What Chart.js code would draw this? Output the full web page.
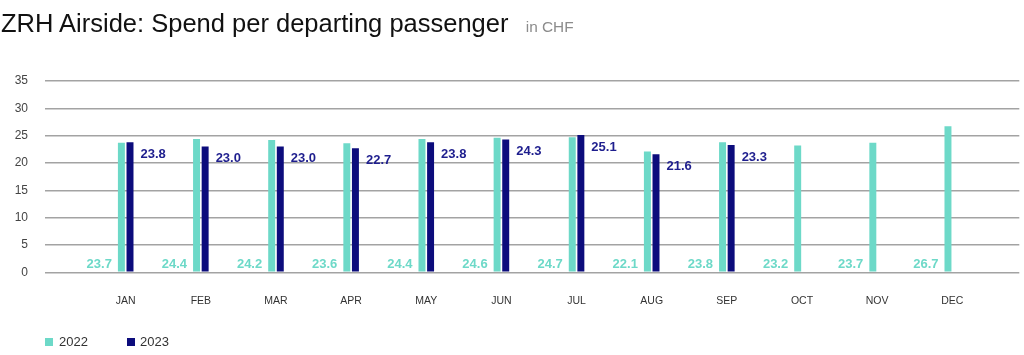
<!DOCTYPE html>
<html>
<head>
<meta charset="utf-8">
<script src="https://cdn.jsdelivr.net/npm/chart.js@4"></script>
<style>
html,body{margin:0;padding:0;background:#fff;}
#wrap{position:relative;width:1024px;height:355px;overflow:hidden;font-family:"Liberation Sans",Arial,sans-serif;}
#chart{position:absolute;left:0;top:0;}
#title{position:absolute;left:1px;top:10.7px;font-size:25.5px;line-height:1;color:#111;white-space:nowrap;}
#title .sub{font-size:15.4px;color:#8c8c8c;margin-left:13px;}
.sw{position:absolute;width:8px;height:8px;top:337.5px;}
.lt{position:absolute;top:334.5px;font-size:13px;line-height:13px;color:#333;white-space:nowrap;}
</style>
</head>
<body>
<div id="wrap">
  <canvas id="chart" width="1024" height="355"></canvas>
  <div id="title">ZRH Airside: Spend per departing passenger<span class="sub"> in CHF</span></div>
  <div class="sw" id="sw0" style="left:45px;"></div><div class="lt" id="lt0" style="left:59px;"></div>
  <div class="sw" id="sw1" style="left:127px;"></div><div class="lt" id="lt1" style="left:140px;"></div>
</div>
<script>
const months = ['JAN','FEB','MAR','APR','MAY','JUN','JUL','AUG','SEP','OCT','NOV','DEC'];
const seriesNames = ['2022','2023'];
const values2022 = [23.7,24.4,24.2,23.6,24.4,24.6,24.7,22.1,23.8,23.2,23.7,26.7];
const values2023 = [23.8,23.0,23.0,22.7,23.8,24.3,25.1,21.6,23.3];
const yTicks = [0,5,10,15,20,25,30,35];

const color2022 = '#6dd9c8';
const color2023 = '#0c0c7c';
const label2023 = '#1e1e8e';

document.getElementById('sw0').style.background = color2022;
document.getElementById('sw1').style.background = color2023;
document.getElementById('lt0').textContent = seriesNames[0];
document.getElementById('lt1').textContent = seriesNames[1];

const barLabels = {
  id: 'barLabels',
  afterDatasetsDraw(chart) {
    const ctx = chart.ctx;
    const yb = chart.scales.y.getPixelForValue(0);
    ctx.save();
    ctx.font = 'bold 13px "Liberation Sans", Arial, sans-serif';
    ctx.textBaseline = 'middle';
    chart.getDatasetMeta(0).data.forEach((bar, i) => {
      ctx.fillStyle = color2022;
      ctx.textAlign = 'right';
      ctx.fillText(values2022[i].toFixed(1), bar.x - bar.width / 2 - 6, yb - 8.3);
    });
    chart.getDatasetMeta(1).data.forEach((bar, i) => {
      ctx.fillStyle = label2023;
      ctx.textAlign = 'left';
      ctx.fillText(values2023[i].toFixed(1), bar.x + bar.width / 2 + 7, bar.y + 12);
    });
    ctx.restore();
  }
};

new Chart(document.getElementById('chart'), {
  type: 'bar',
  data: {
    datasets: [
      { label: seriesNames[0], data: values2022.map((v, i) => ({ x: i + 1, y: v })), backgroundColor: color2022 },
      { label: seriesNames[1], data: values2023.map((v, i) => ({ x: i + 1, y: v })), backgroundColor: color2023 }
    ]
  },
  options: {
    responsive: false,
    animation: false,
    categoryPercentage: 0.229,
    barPercentage: 0.81,
    layout: { padding: { top: 81, right: 4.7, left: 0, bottom: 0 } },
    plugins: { legend: { display: false }, tooltip: { enabled: false }, title: { display: false } },
    scales: {
      x: {
        type: 'linear',
        offset: false,
        min: -0.074,
        max: 12.892,
        afterBuildTicks: (s) => { s.ticks = months.map((m, i) => ({ value: i + 1 })); },
        afterFit: (s) => { s.height = 82.7; },
        grid: { display: false, drawTicks: false, offset: false },
        border: { display: false },
        ticks: {
          autoSkip: false, maxRotation: 0, padding: 23,
          color: '#333',
          font: { family: '"Liberation Sans", Arial, sans-serif', size: 10.5 },
          callback: (v) => months[v - 1] || ''
        }
      },
      y: {
        min: 0,
        max: 35,
        afterBuildTicks: (s) => { s.ticks = yTicks.map(v => ({ value: v })); },
        afterFit: (s) => { s.width = 45; },
        grid: { color: '#a3a3a3', lineWidth: 1.5, drawTicks: false },
        border: { display: false },
        ticks: {
          padding: 17,
          color: '#444',
          font: { family: '"Liberation Sans", Arial, sans-serif', size: 12 }
        }
      }
    }
  },
  plugins: [barLabels]
});
</script>
</body>
</html>
